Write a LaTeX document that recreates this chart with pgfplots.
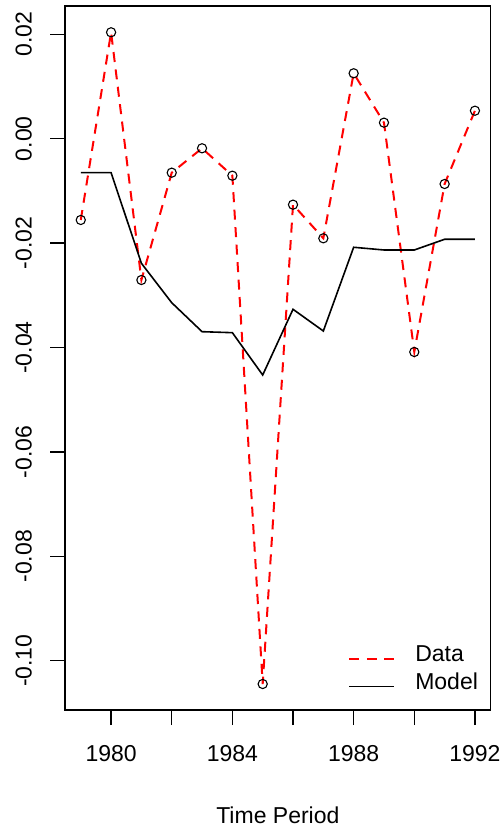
\documentclass[border=0pt]{standalone}
\usepackage{fontspec}
\setmainfont{Liberation Sans}
\usepackage{pgfplots}
\pgfplotsset{compat=1.18}
\newcommand{\rf}{\fontsize{23bp}{27bp}\selectfont}
\begin{document}
\begin{tikzpicture}
\useasboundingbox (-65bp,-120bp) rectangle (438bp,710bp);
\begin{axis}[
  at={(0,0)}, anchor=south west,
  width=425.7bp, height=704bp, scale only axis,
  xmin=1978.48, xmax=1992.52, ymin=-0.10944, ymax=0.02542,
  axis line style={line width=1.2bp},
  tick style={line width=1.2bp, black},
  tick align=outside, major tick length=15bp,
  xtick pos=bottom, ytick pos=left,
  xtick={1980,1982,1984,1986,1988,1990,1992},
  xticklabels={1980,,1984,,1988,,1992},
  ytick={-0.1,-0.08,-0.06,-0.04,-0.02,0,0.02},
  yticklabels={-0.10,-0.08,-0.06,-0.04,-0.02,0.00,0.02},
  every tick label/.append style={font=\rf, inner sep=0pt},
  yticklabel style={rotate=90, anchor=south},
  yticklabel shift=18bp,
  xticklabel style={anchor=north},
  xticklabel shift=20bp,
  xlabel={Time Period},
  xlabel style={at={(axis description cs:0.5,0)}, anchor=base, yshift=-113bp, font=\rf, inner sep=0pt},
  legend style={draw=none, fill=none, at={(axis description cs:0.665,0.0131)}, anchor=south west,
    font=\rf, inner sep=0pt, column sep=20bp, row sep=0pt,
    nodes={inner sep=0pt, text height=16.5bp, text depth=11.5bp}},
  legend cell align=left,
  legend image code/.code={\draw[#1] (0bp,0bp) -- (45bp,0bp);},
]
\addplot[red, line width=2bp, dash pattern=on 10bp off 7.5bp,
  mark=o, mark size=4.6bp, mark options={solid, black, line width=1.1bp}]
coordinates {
(1979,-0.01557) (1980,0.02038) (1981,-0.02707) (1982,-0.00651) (1983,-0.00184)
(1984,-0.00709) (1985,-0.10446) (1986,-0.01264) (1987,-0.01908) (1988,0.01253)
(1989,0.00307) (1990,-0.04086) (1991,-0.00868) (1992,0.00536)
};
\addlegendentry{Data}
\addplot[black, line width=1.6bp, no marks]
coordinates {
(1979,-0.00651) (1980,-0.00651) (1981,-0.02387) (1982,-0.03142) (1983,-0.03697)
(1984,-0.03716) (1985,-0.04527) (1986,-0.03268) (1987,-0.03684) (1988,-0.02080)
(1989,-0.02132) (1990,-0.02132) (1991,-0.01927) (1992,-0.01927)
};
\addlegendentry{Model}
\end{axis}
\end{tikzpicture}
\end{document}
